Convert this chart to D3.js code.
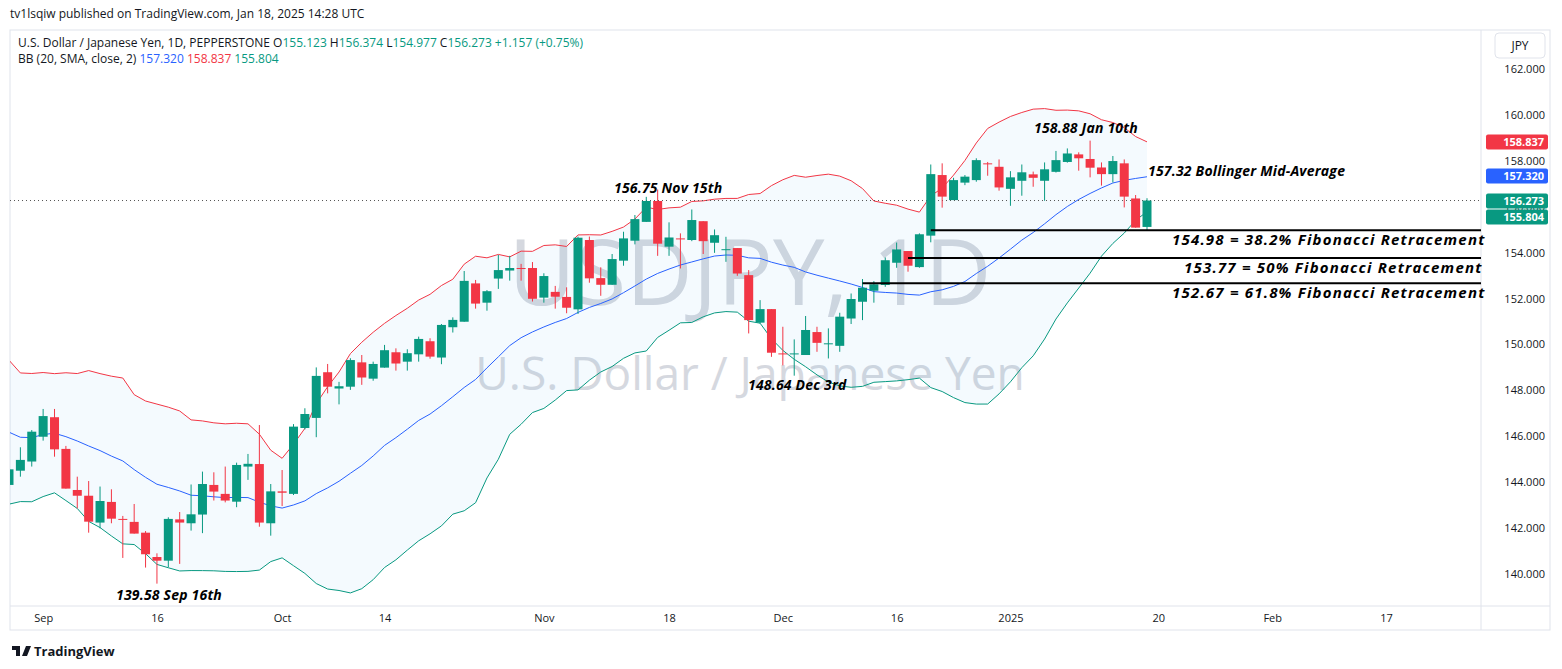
<!DOCTYPE html>
<html><head><meta charset="utf-8">
<script src="https://cdn.jsdelivr.net/npm/d3@7"></script>
<style>
body{margin:0;background:#fff;font-family:"Open Sans",Roboto,sans-serif}
</style></head><body>
<svg id="c" width="1562" height="669"></svg>
<script>
// closes before the visible range, only used to seed the bands
const preClose = [149.4,146.5,144.2,144.3,146.7,147.2,146.6,147.2,147.2,146.6,149.3,147.6,146.6,145.2,145.3,146.3,144.4,144.5,143.9]
const opens  = [143.88,144.50,144.90,145.98,146.83,145.45,143.66,143.41,142.24,143.14,142.40,142.27,141.80,140.74,140.58,142.38,142.21,142.59,143.88,143.49,143.15,144.68,144.79,142.21,143.60,143.49,146.36,146.80,148.79,148.08,148.16,149.22,148.51,148.99,149.66,149.25,149.57,150.14,149.43,150.75,150.99,152.66,151.82,152.87,153.22,153.33,153.33,152.04,152.29,152.07,151.53,154.55,152.89,152.60,153.65,154.52,155.34,156.25,154.26,154.62,154.55,155.37,154.43,154.14,154.20,153.02,150.95,151.54,149.61,149.57,149.54,150.54,150.04,149.94,151.13,151.86,152.34,152.59,153.56,154.07,153.37,154.74,157.38,156.29,157.05,157.16,157.89,157.74,156.78,157.13,157.41,157.13,157.52,157.95,158.28,158.08,157.71,157.42,157.89,156.36,155.12]
const highs  = [144.70,145.52,146.27,147.19,147.19,145.58,144.24,144.05,143.81,143.69,142.53,143.05,141.87,140.90,142.47,142.70,143.90,144.46,144.43,144.68,144.85,145.23,146.49,143.92,144.53,146.53,147.22,149.00,149.15,148.37,149.40,149.54,149.25,149.98,149.83,149.79,150.34,150.27,150.89,151.18,153.20,152.81,152.37,153.90,153.86,153.51,153.59,153.10,152.55,152.49,154.70,154.70,153.36,153.94,154.91,155.64,156.43,156.75,155.32,154.84,155.88,155.37,155.01,154.69,154.20,153.24,151.93,151.54,150.77,150.22,151.24,150.77,150.70,151.38,152.22,152.85,152.76,153.79,154.44,154.07,154.84,157.84,157.89,157.26,157.38,158.11,157.95,158.06,157.55,157.84,157.53,157.93,158.43,158.54,158.37,158.88,157.93,158.21,158.06,156.51,156.37]
const lows   = [143.66,144.24,144.68,145.81,145.11,143.72,142.86,141.80,141.99,142.21,140.70,141.76,140.28,139.58,140.29,140.44,141.89,141.78,143.20,143.12,142.91,144.10,142.06,141.67,142.96,143.44,146.30,145.96,147.87,147.39,148.02,148.24,148.42,148.99,148.86,148.86,149.25,149.38,149.14,150.52,150.99,151.56,151.47,152.42,152.78,152.78,151.87,151.82,151.56,151.36,151.33,152.69,152.12,152.60,153.43,154.36,155.34,153.86,153.86,153.31,154.50,153.94,153.99,153.60,152.99,150.48,150.92,149.46,149.09,148.64,149.54,149.68,149.39,149.68,150.89,151.06,151.82,152.51,153.34,153.17,153.34,154.45,155.96,156.29,156.94,157.09,157.35,156.70,156.04,156.48,156.87,156.26,157.49,157.92,157.57,157.28,156.92,157.06,155.97,155.09,154.98]
const closes = [144.56,144.97,146.20,146.88,145.43,143.72,143.41,142.28,143.18,142.41,142.36,141.76,140.86,140.58,142.40,142.24,142.60,143.92,143.59,143.20,144.75,144.80,142.24,143.60,143.54,146.42,146.97,148.63,148.16,148.18,149.32,148.56,149.15,149.75,149.17,149.62,150.24,149.47,150.85,151.07,152.77,151.78,152.32,153.24,153.33,153.30,151.99,152.98,152.08,151.60,154.65,152.88,152.60,153.72,154.62,155.46,156.25,154.39,154.66,154.60,155.42,154.50,154.76,154.15,153.09,151.06,151.54,149.64,149.58,149.61,150.63,150.07,150.05,151.21,151.98,152.47,152.62,153.67,154.14,153.43,154.80,157.42,156.44,157.16,157.31,158.03,157.87,156.84,157.28,157.50,157.26,157.63,158.03,158.32,158.11,157.70,157.42,157.99,156.44,155.09,156.27]
const lastOHLC = ["155.123","156.374","154.977","156.273"]
const bbReadout = ["157.320","158.837","155.804"]   // mid, upper, lower
const xTickLabels = ["Sep","16","Oct","14","Nov","18","Dec","16","2025","20","Feb","17"]
const xTickIdx    = [3,13,24,33,47,58,68,78,88,101,111,121]
const yTicks = [140,142,144,146,148,150,152,154,156,158,160,162]
const fibLevels = [154.98,153.77,152.67]
const fibLabels = ["154.98 = 38.2% Fibonacci Retracement","153.77 = 50% Fibonacci Retracement","152.67 = 61.8% Fibonacci Retracement"]
const fibStart = [81,79,75]

const green="#089981", red="#f23645", blue="#2962ff"
const svg = d3.select("#c")
const x = d3.scaleLinear().domain([0,1]).range([9,20.38])
const y = d3.scaleLinear().domain([140,162]).range([574,69])

// bollinger from closes
const all = preClose.concat(closes)
const bb = closes.map((c,i)=>{
  const w = all.slice(i, i+20)
  const m = d3.mean(w), sd = Math.sqrt(d3.mean(w, v=>(v-m)*(v-m)))
  return {i, m, u:m+2*sd, l:m-2*sd}
})

svg.append("text").attr("x",10).attr("y",18).attr("font-size",12).attr("fill","#131722").text("tv1lsqiw published on TradingView.com, Jan 18, 2025 14:28 UTC")
svg.append("rect").attr("x",10).attr("y",30).attr("width",1540).attr("height",600).attr("fill","none").attr("stroke","#e0e3eb")
svg.append("line").attr("x1",10).attr("x2",1550).attr("y1",606).attr("y2",606).attr("stroke","#e0e3eb")
svg.append("line").attr("x1",1481).attr("x2",1481).attr("y1",30).attr("y2",630).attr("stroke","#e0e3eb")

const plot = svg.append("g")
plot.append("clipPath").attr("id","cp").append("rect").attr("x",10).attr("y",30).attr("width",1471).attr("height",576)
const g = plot.append("g").attr("clip-path","url(#cp)")

// watermark
g.append("text").attr("x",750).attr("y",305).attr("text-anchor","middle").attr("font-size",92).attr("fill","#d1d4dc").attr("opacity",0.9).text("USDJPY, 1D")
g.append("text").attr("x",750).attr("y",390).attr("text-anchor","middle").attr("font-size",46).attr("fill","#d1d4dc").attr("opacity",0.9).text("U.S. Dollar / Japanese Yen")

g.append("path").datum(bb).attr("fill","#2196f3").attr("fill-opacity",0.05)
  .attr("d", d3.area().x(d=>x(d.i)).y0(d=>y(d.l)).y1(d=>y(d.u)))
g.append("path").datum(bb).attr("fill","none").attr("stroke",red).attr("d", d3.line().x(d=>x(d.i)).y(d=>y(d.u)))
g.append("path").datum(bb).attr("fill","none").attr("stroke",blue).attr("d", d3.line().x(d=>x(d.i)).y(d=>y(d.m)))
g.append("path").datum(bb).attr("fill","none").attr("stroke",green).attr("d", d3.line().x(d=>x(d.i)).y(d=>y(d.l)))

// last price dotted line
g.append("line").attr("x1",10).attr("x2",1481).attr("y1",y(closes[closes.length-1])).attr("y2",y(closes[closes.length-1]))
  .attr("stroke","#555").attr("stroke-dasharray","1,3")

const cd = closes.map((c,i)=>({i,o:opens[i],h:highs[i],l:lows[i],c}))
const cg = g.selectAll(".k").data(cd).join("g")
cg.append("line").attr("x1",d=>x(d.i)).attr("x2",d=>x(d.i)).attr("y1",d=>y(d.h)).attr("y2",d=>y(d.l))
  .attr("stroke",d=>d.c>=d.o?green:red)
cg.append("rect").attr("x",d=>x(d.i)-4.5).attr("width",9)
  .attr("y",d=>y(Math.max(d.o,d.c))).attr("height",d=>Math.max(1,Math.abs(y(d.o)-y(d.c))))
  .attr("fill",d=>d.c>=d.o?green:red)

// fib lines
const fibX = [1172,1184,1172]
fibLevels.forEach((v,k)=>{
  g.append("line").attr("x1",x(fibStart[k])).attr("x2",1481).attr("y1",y(v)).attr("y2",y(v)).attr("stroke","#000").attr("stroke-width",2)
  svg.append("text").attr("x",fibX[k]).attr("y",y(v)+15).attr("font-size",15).attr("font-style","italic").attr("font-weight","bold")
    .attr("fill","#000").attr("letter-spacing",1.2).text(fibLabels[k])
})
const ann = [[614,193,"156.75 Nov 15th"],[1034,133,"158.88 Jan 10th"],[748,390,"148.64 Dec 3rd"],[116,600,"139.58 Sep 16th"],[1148,176,"157.32 Bollinger Mid-Average"]]
ann.forEach(a=>svg.append("text").attr("x",a[0]).attr("y",a[1]).attr("font-size",14).attr("font-style","italic").attr("font-weight","bold").attr("letter-spacing",0.2).attr("fill","#000").text(a[2]))

// axes
const ya = svg.append("g").attr("transform","translate(1481,0)")
  .call(d3.axisRight(y).tickValues(yTicks).tickFormat(d3.format(".3f")).tickSize(0).tickPadding(8))
ya.select(".domain").remove()
ya.selectAll("text").attr("font-size",11).attr("fill","#131722").attr("font-family","Open Sans, sans-serif").attr("x",64).attr("text-anchor","end")
const xa = svg.append("g").attr("transform","translate(0,606)")
  .call(d3.axisBottom(x).tickValues(xTickIdx).tickFormat((d,i)=>xTickLabels[i]).tickSize(0).tickPadding(8))
xa.select(".domain").remove()
xa.selectAll("text").attr("font-size",11).attr("fill","#131722").attr("font-family","Open Sans, sans-serif")

// price tags
const tags = [[bbReadout[1],red],[bbReadout[0],blue],[lastOHLC[3],green],[bbReadout[2],green]]
const tagY = [142,176,201,217]
tags.forEach((t,k)=>{
  svg.append("rect").attr("x",1486).attr("y",tagY[k]-7.5).attr("width",62).attr("height",15).attr("rx",2).attr("fill",t[1])
  svg.append("text").attr("x",1544).attr("y",tagY[k]+4).attr("text-anchor","end").attr("font-size",11).attr("font-weight","bold").attr("fill","#fff").text(t[0])
})
svg.append("rect").attr("x",1495).attr("y",33).attr("width",50).attr("height",25).attr("rx",4).attr("fill","#fff").attr("stroke","#e0e3eb")
svg.append("text").attr("x",1520).attr("y",50).attr("text-anchor","middle").attr("font-size",12).attr("fill","#131722").text("JPY")

// legend
const l1 = svg.append("text").attr("x",18).attr("y",47).attr("font-size",12).attr("fill","#131722")
l1.append("tspan").text("U.S. Dollar / Japanese Yen, 1D, PEPPERSTONE  ")
;["O","H","L","C"].forEach((p,k)=>{
  l1.append("tspan").text(p); l1.append("tspan").attr("fill",green).text(lastOHLC[k]+" ")
})
l1.append("tspan").attr("fill",green).text("+1.157 (+0.75%)")
const l2 = svg.append("text").attr("x",18).attr("y",63).attr("font-size",12).attr("fill","#131722")
l2.append("tspan").text("BB (20, SMA, close, 2)  ")
l2.append("tspan").attr("fill",blue).text(bbReadout[0]+"  ")
l2.append("tspan").attr("fill",red).text(bbReadout[1]+"  ")
l2.append("tspan").attr("fill",green).text(bbReadout[2])

svg.append("text").attr("x",34).attr("y",656).attr("font-size",13).attr("font-weight","bold").attr("fill","#131722").text("TradingView")
svg.append("path").attr("d","M12 646h8v10h-4v-6h-4zM22 656l4-10h5l-4 10z").attr("fill","#131722")
</script></body></html>
